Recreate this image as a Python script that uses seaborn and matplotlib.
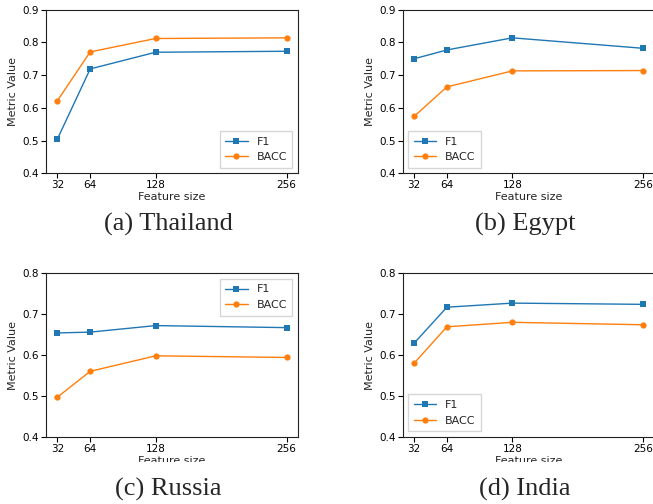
import matplotlib
matplotlib.use("Agg")
import matplotlib.pyplot as plt
import seaborn as sns
import pandas as pd
from matplotlib.patches import Rectangle

feature_sizes = [32, 64, 128, 256]
tick_labels = ["32", "64", "128", "256"]

countries = ["Thailand", "Egypt", "Russia", "India"]
captions = ["(a) Thailand", "(b) Egypt", "(c) Russia", "(d) India"]

f1_thailand = [0.505, 0.719, 0.770, 0.773]
bacc_thailand = [0.622, 0.771, 0.812, 0.814]
f1_egypt = [0.750, 0.777, 0.814, 0.782]
bacc_egypt = [0.574, 0.664, 0.713, 0.714]
f1_russia = [0.654, 0.656, 0.672, 0.667]
bacc_russia = [0.497, 0.560, 0.598, 0.594]
f1_india = [0.629, 0.717, 0.727, 0.724]
bacc_india = [0.580, 0.669, 0.680, 0.674]

f1_all = [f1_thailand, f1_egypt, f1_russia, f1_india]
bacc_all = [bacc_thailand, bacc_egypt, bacc_russia, bacc_india]
ylims = [(0.4, 0.9), (0.4, 0.9), (0.4, 0.8), (0.4, 0.8)]
legend_locs = ["lower right", "lower left", "upper right", "lower left"]

sns.set_style("ticks")
plt.rcParams["font.family"] = ["DejaVu Sans"]

W, H = 653, 504
fig = plt.figure(figsize=(W / 100, H / 100), dpi=100)

# axes boxes in pixel coords: left, top, right, bottom
boxes = [(46, 9.7, 298, 173.3), (402.7, 9.7, 654.7, 173.3),
         (46, 273.3, 298, 436.7), (402.7, 273.3, 654.7, 436.7)]
caption_pos = [(168, 224), (525, 224), (168, 489), (525, 489)]

blue = "#1f77b4"
orange = "#ff7f0e"

for i in range(4):
    l, t, r, b = boxes[i]
    ax = fig.add_axes([l / W, 1 - b / H, (r - l) / W, (b - t) / H])
    df = pd.DataFrame({"size": feature_sizes, "F1": f1_all[i], "BACC": bacc_all[i]})
    sns.lineplot(data=df, x="size", y="F1", ax=ax, color=blue, marker="s",
                 markersize=4.5, markeredgewidth=0, linewidth=1, label="F1")
    sns.lineplot(data=df, x="size", y="BACC", ax=ax, color=orange, marker="o",
                 markersize=4.5, markeredgewidth=0, linewidth=1, label="BACC")
    ax.set_xticks(feature_sizes)
    ax.set_xticklabels(tick_labels)
    ax.set_xlim(20.8, 267.2)
    ax.set_ylim(*ylims[i])
    ax.set_xlabel("Feature size", fontsize=8, labelpad=1.5)
    ax.set_ylabel("Metric Value", fontsize=8, labelpad=3)
    ax.tick_params(labelsize=7.5, length=3.5, width=0.8, colors="black", pad=1.5)
    for s in ax.spines.values():
        s.set_visible(True)
        s.set_linewidth(0.8)
        s.set_color("#222222")
    ax.legend(loc=legend_locs[i], fontsize=8, frameon=True, fancybox=False,
              edgecolor="#cccccc", borderpad=0.5)

# white band clipping the bottom row x-labels (as in reference)
fig.patches.append(Rectangle((0, 0), 1, 1 - 462 / H, transform=fig.transFigure,
                             facecolor="white", edgecolor="none", zorder=5))

for i in range(4):
    x, y = caption_pos[i]
    fig.text(x / W, 1 - y / H, captions[i], ha="center", va="center",
             fontsize=19, family=["Liberation Serif", "DejaVu Serif"], zorder=10)

fig.savefig("out.png", dpi=100)
